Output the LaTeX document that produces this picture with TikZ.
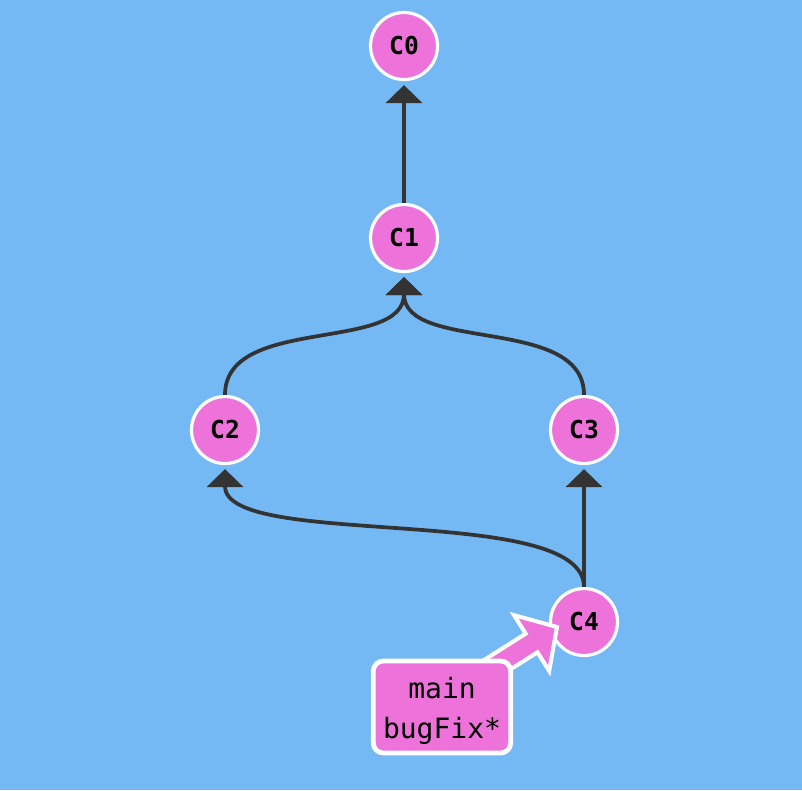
\documentclass[tikz,border=0pt]{standalone}
\usepackage{fontspec}
\newfontfamily\monofont{DejaVu Sans Mono}
\usetikzlibrary{arrows.meta}
\definecolor{bg}{RGB}{116,185,244}
\definecolor{pinkc}{RGB}{237,115,218}
\definecolor{edgec}{RGB}{51,51,51}
\begin{document}
\begin{tikzpicture}[x=0.75pt,y=-0.75pt,
  commit/.style={circle,fill=pinkc,draw=white,line width=2.4pt,minimum size=50.25pt,inner sep=0pt,
    font=\monofont\bfseries\fontsize{18.5}{20}\selectfont},
  parent/.style={draw=edgec,line width=2.8pt,-{Triangle[width=27pt,length=13.5pt]},shorten >=3pt},
  branchbox/.style={rectangle,rounded corners=7.5pt,fill=pinkc,draw=white,line width=3.6pt,
    minimum width=103pt,minimum height=69pt,inner sep=0pt,align=center,
    font=\monofont\fontsize{21}{30}\selectfont},
  fatarrow/.style={fill=pinkc,draw=white,line width=3pt,line join=miter}]
\fill[bg] (0,0) rectangle (802,790);
\useasboundingbox (0,0) rectangle (802,790);
\node[commit] (c0) at (404,46) {C0};
\node[commit] (c1) at (404,238) {C1};
\node[commit] (c2) at (225,430) {C2};
\node[commit] (c3) at (584,430) {C3};
\node[commit] (c4) at (584,622) {C4};
\draw[parent] (c1) -- (c0);
\draw[parent] (c2.north) .. controls +(0,-80) and +(0,80) .. (c1.south);
\draw[parent] (c3.north) .. controls +(0,-80) and +(0,80) .. (c1.south);
\draw[parent] (c4) -- (c3);
\draw[parent] (c4.north) .. controls +(0,-85) and +(0,85) .. (c2.south);
\draw[fatarrow] (557,627) -- (549.2,670.9) -- (537.5,652.3) -- (469.9,695) -- (458.1,676.4) -- (525.7,633.7) -- (514.0,615.1) -- cycle;
\node[branchbox] (lbl) at (442,707) {};
\node[font=\monofont\fontsize{21}{30}\selectfont,align=center,inner sep=0pt] (lbltext) at (442,711) {main\\bugFix*};
\end{tikzpicture}
\end{document}
